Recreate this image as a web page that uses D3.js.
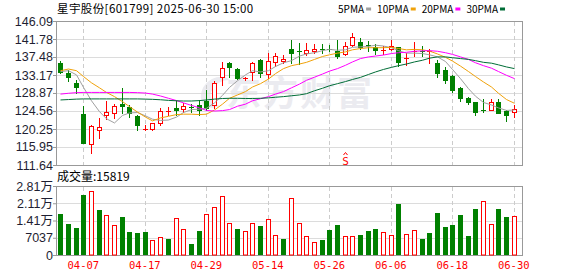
<!DOCTYPE html>
<html><head><meta charset="utf-8">
<script src="https://cdn.jsdelivr.net/npm/d3@7/dist/d3.min.js"></script>
<style>body{margin:0;background:#fff}svg{display:block}</style>
</head><body><svg id="c" width="578" height="276"></svg>
<script>
const dates = ["04-01","04-02","04-03","04-07","04-08","04-09","04-10","04-11","04-14","04-15","04-16","04-17","04-18","04-21","04-22","04-23","04-24","04-25","04-28","04-29","04-30","05-06","05-07","05-08","05-09","05-12","05-13","05-14","05-15","05-16","05-19","05-20","05-21","05-22","05-23","05-26","05-27","05-28","05-29","05-30","06-03","06-04","06-05","06-06","06-09","06-10","06-11","06-12","06-13","06-16","06-17","06-18","06-19","06-20","06-23","06-24","06-25","06-26","06-27","06-30"];
const open  = [136.1,133.7,131.2,123.8,116.6,119.9,123.5,124.0,126.3,125.5,123.4,120.2,120.3,121.7,124.5,125.3,125.1,125.4,126.0,126.9,126.0,132.6,136.0,134.6,132.3,133.8,136.8,133.3,136.2,136.6,139.4,138.8,138.5,138.8,139.35,139.4,138.8,138.2,140.4,141.1,140.4,139.8,139.1,139.4,139.8,136.9,138.9,138.8,138.7,136.1,134.4,133.0,130.1,127.6,126.6,124.7,124.8,126.8,124.6,124.4];
const close = [134.0,132.8,130.4,117.0,121.0,120.8,124.2,125.7,125.8,124.0,121.2,120.3,121.6,124.6,124.6,124.8,125.8,125.2,124.8,125.2,131.3,134.8,135.0,132.4,132.4,136.0,133.6,136.5,137.7,136.9,138.5,138.7,139.2,139.4,139.25,139.3,137.7,140.1,142.2,139.9,140.2,139.1,139.2,140.1,136.3,137.2,139.0,138.7,138.8,133.6,132.0,129.6,127.7,126.8,124.4,124.6,126.7,124.0,123.6,125.0];
const high  = [136.6,134.4,132.0,125.8,121.2,123.0,127.0,126.2,130.0,126.0,123.6,121.3,121.8,125.2,125.4,127.2,126.4,126.2,127.2,129.6,131.8,136.2,136.4,134.8,132.8,136.4,136.9,138.4,138.4,138.0,141.5,140.8,140.8,140.5,140.5,140.3,141.5,141.1,143.2,142.0,141.3,140.5,140.0,141.5,139.9,138.4,141.0,140.0,139.4,136.8,135.2,133.2,130.4,128.0,126.8,127.4,127.4,127.4,124.8,126.0];
const low   = [133.7,131.8,128.9,117.0,114.6,118.2,122.6,122.8,124.0,123.1,120.0,119.9,120.0,121.2,123.6,123.6,124.4,124.4,123.6,124.8,125.2,130.8,132.8,132.2,132.0,132.0,132.8,132.5,135.3,136.0,136.0,135.8,138.0,138.5,138.5,138.8,137.2,137.9,140.1,139.5,139.0,138.3,138.3,139.2,135.3,135.6,137.7,137.8,136.0,132.8,131.2,129.0,127.0,126.3,123.6,124.4,124.8,124.0,122.2,123.2];
const volume = [16850,12770,11140,24600,26100,18480,16320,12240,15500,9520,9100,9520,6120,7210,6390,14960,10470,4490,9790,16720,19440,23930,12920,10600,9660,12920,11830,14550,8030,6530,23120,12920,7610,5300,6120,10200,12240,7610,7610,8160,9790,10600,9250,8030,20800,8440,10070,6530,8970,17130,11420,12240,16320,7750,18760,21900,12520,18760,15500,15819];
const volUp = [0,0,0,0,1,0,1,1,0,0, 0,0,1,1,0,1,1,0,0,1, 1,1,1,0,1,1,0,1,1,0, 1,1,1,1,0,0,0,1,1,0, 0,0,1,1,0,1,1,0,0,0, 0,0,0,0,0,1,1,0,0,1];
const ma5  = [134.0,134.2,133.2,130.2,127.0,124.4,122.7,121.7,123.5,124.1,124.2,123.4,122.6,122.3,122.4,123.1,124.2,124.9,125.0,125.2,126.5,128.3,130.2,131.8,133.2,134.2,133.9,134.2,135.2,136.1,136.6,137.7,138.2,138.5,139.0,139.3,139.1,139.2,139.8,139.9,140.0,140.3,140.1,139.7,139.0,138.4,138.4,138.3,138.0,137.5,136.4,134.5,132.3,129.9,128.1,126.6,126.0,125.3,124.7,124.8];
const ma10 = [134.2,134.6,134.2,132.8,131.3,130.1,129.0,128.0,126.8,125.6,124.3,123.1,122.2,122.9,123.3,123.7,123.8,123.8,123.7,123.8,124.8,126.2,127.6,128.4,129.2,130.3,131.1,132.2,133.5,134.7,135.4,135.8,136.2,136.9,137.6,138.0,138.4,138.7,139.2,139.5,139.7,139.7,139.7,139.8,139.5,139.2,139.3,139.2,138.9,138.2,137.4,136.5,135.3,134.0,132.8,131.5,130.3,128.8,127.3,126.4];
const ma20 = [128.6,128.8,128.95,129.0,129.0,129.0,129.0,129.0,129.0,129.0,128.95,128.85,128.6,128.15,127.6,127.05,126.5,125.9,125.3,124.7,124.55,124.65,124.9,125.7,126.2,127.0,127.5,128.0,128.6,129.2,130.1,131.0,131.9,132.65,133.4,134.1,134.7,135.5,136.3,137.1,137.5,137.7,137.95,138.3,138.5,138.6,138.85,138.95,139.0,138.85,138.5,138.1,137.5,136.9,136.1,135.4,134.8,134.0,133.1,132.3];
const ma30 = [127.2,127.3,127.4,127.45,127.45,127.45,127.45,127.45,127.45,127.45,127.45,127.4,127.35,127.25,127.1,127.0,126.95,126.95,127.05,127.2,127.4,127.55,127.6,127.6,127.55,127.55,127.6,127.7,127.85,128.0,128.2,128.4,128.7,129.4,130.0,130.6,131.1,131.6,132.1,132.6,133.3,133.9,134.5,135.0,135.4,135.8,136.3,136.7,137.2,137.5,137.5,137.3,137.1,136.9,136.6,136.2,136.0,135.6,135.1,134.7];
const maNames = ["5PMA","10PMA","20PMA","30PMA"];
const maColors = ["#a0a0a0","#f0a20a","#ff00ff","#006d36"];
const priceTicks = [111.64,115.95,120.25,124.56,128.87,133.17,137.48,141.78,146.09];
const volTicks = [0,7037,14074,21111,28148];
const volTickLabels = ["0","7037","1.41万","2.11万","2.81万"];
const xTickDates = ["04-07","04-17","04-29","05-14","05-26","06-06","06-18","06-30"];
const markerDates = ["05-28"];
const title = "星宇股份[601799] 2025-06-30 15:00";
const volTitle = "成交量:15819";

const RED = "#ff0000", GREEN = "#008000";
const L = 56, R = 522, T = 21, B = 165, VT = 186, VB = 255;
const svg = d3.select("#c");
const x = d3.scaleBand().domain(dates).range([56.4, 517.6]);
const cx = d => Math.round(x(d) + x.bandwidth() / 2) + 0.5;
const y = d3.scaleLinear().domain([priceTicks[0], priceTicks[priceTicks.length - 1]]).range([B, T]);
const yv = d3.scaleLinear().domain([0, volTicks[volTicks.length - 1]]).range([VB, VT]);
const px = v => Math.round(v);

svg.append("rect").attr("width", 578).attr("height", 276).attr("fill", "#fff");

// watermark
const wm = svg.append("g").attr("fill", "#ebebf0");
wm.append("path").attr("d", "M203,104 C198,96 202,84 212,79 C220,75 228,77 229,80 C222,80 214,84 211,92 C209,98 213,104 220,106 C213,109 206,108 203,104 Z");
wm.append("text").attr("x", 226).attr("y", 106).attr("font-family", "Noto Sans CJK SC").attr("font-weight", 700)
  .attr("font-size", 35).attr("letter-spacing", 2).text("东方财富");

// horizontal grid
const grid = svg.append("g").attr("stroke", "#dcdcdc").attr("stroke-width", 1);
priceTicks.slice(1, -1).forEach(t => grid.append("line").attr("x1", L).attr("x2", R).attr("y1", px(y(t)) + 0.5).attr("y2", px(y(t)) + 0.5));
volTicks.slice(1, -1).forEach(t => grid.append("line").attr("x1", L).attr("x2", R).attr("y1", px(yv(t)) + 0.5).attr("y2", px(yv(t)) + 0.5));
// vertical dashed grid
const vg = svg.append("g").attr("stroke", "#cccccc").attr("stroke-dasharray", "4,3");
xTickDates.forEach(d => {
  vg.append("line").attr("x1", cx(d)).attr("x2", cx(d)).attr("y1", T + 1).attr("y2", B);
  vg.append("line").attr("x1", cx(d)).attr("x2", cx(d)).attr("y1", VT + 1).attr("y2", VB);
});
// borders
svg.append("rect").attr("x", L + 0.5).attr("y", T + 0.5).attr("width", R - L).attr("height", B - T).attr("fill", "none").attr("stroke", "#999");
svg.append("rect").attr("x", L + 0.5).attr("y", VT + 0.5).attr("width", R - L).attr("height", VB - VT).attr("fill", "none").attr("stroke", "#999");

// volume bars
const vb = svg.append("g");
dates.forEach((d, i) => {
  const c = cx(d), top = px(yv(volume[i]));
  if (volUp[i]) {
    vb.append("rect").attr("x", c - 2).attr("y", top + 0.5).attr("width", 4).attr("height", VB - top - 0.5)
      .attr("fill", "#fff").attr("stroke", RED);
  } else {
    vb.append("rect").attr("x", c - 2.5).attr("y", top).attr("width", 5).attr("height", VB - top).attr("fill", GREEN);
  }
});

// candles
const cg = svg.append("g");
dates.forEach((d, i) => {
  const c = cx(d);
  const up = close[i] >= open[i];
  const col = up ? RED : GREEN;
  const t = px(y(Math.max(open[i], close[i]))), b = px(y(Math.min(open[i], close[i])));
  cg.append("line").attr("x1", c).attr("x2", c).attr("y1", px(y(high[i]))).attr("y2", px(y(low[i])) + 1).attr("stroke", col);
  if (b - t < 2) {
    cg.append("rect").attr("x", c - 2.5).attr("y", t).attr("width", 5).attr("height", Math.max(1, b - t)).attr("fill", col);
  } else if (up) {
    cg.append("rect").attr("x", c - 2).attr("y", t + 0.5).attr("width", 4).attr("height", b - t).attr("fill", "#fff").attr("stroke", col);
  } else {
    cg.append("rect").attr("x", c - 2.5).attr("y", t).attr("width", 5).attr("height", b - t + 1).attr("fill", col);
  }
});

// moving averages
const mas = [ma5, ma10, ma20, ma30];
const line = d3.line().x((v, i) => cx(dates[i])).y(v => y(v));
mas.forEach((m, k) => svg.append("path").attr("d", line(m)).attr("fill", "none").attr("stroke", maColors[k]).attr("stroke-width", 1));

// marker
markerDates.forEach(d => {
  const c = cx(d);
  svg.append("path").attr("d", `M${c - 2},${155} L${c},${152.5} L${c + 2},${155}`).attr("fill", "none").attr("stroke", RED);
  svg.append("text").attr("x", c).attr("y", 164.5).attr("text-anchor", "middle").attr("fill", RED)
    .attr("font-family", "DejaVu Sans Mono").attr("font-size", 11).text("S");
});

// axes
const styleAxis = (g, size, fill, fam) => {
  g.select(".domain").remove();
  g.attr("font-family", null).attr("font-size", null);
  g.selectAll(".tick line").attr("stroke", "#999");
  g.selectAll("text").attr("font-family", fam).attr("font-size", size).attr("fill", fill);
};
const ya = svg.append("g").attr("transform", `translate(${L},0)`)
  .call(d3.axisLeft(y).tickValues(priceTicks).tickFormat(d => d.toFixed(2)).tickSize(3).tickPadding(0));
styleAxis(ya, 12.5, "#1e1e32", "Liberation Sans, Noto Sans CJK SC");
const va = svg.append("g").attr("transform", `translate(${L},0)`)
  .call(d3.axisLeft(yv).tickValues(volTicks).tickFormat((d, i) => volTickLabels[i]).tickSize(3).tickPadding(0));
styleAxis(va, 12.5, "#1e1e32", "Liberation Sans, Noto Sans CJK SC");
const xa = svg.append("g").attr("transform", `translate(0,${VB})`)
  .call(d3.axisBottom(x).tickValues(xTickDates).tickSize(0).tickPadding(7));
styleAxis(xa, 10.5, RED, "DejaVu Sans Mono");

// title and legend
svg.append("text").attr("x", 57).attr("y", 13).attr("font-family", "Noto Sans CJK SC").attr("font-size", 11.5)
  .attr("letter-spacing", 0.4).attr("fill", "#000").text(title);
svg.append("text").attr("x", 57).attr("y", 181).attr("font-family", "Noto Sans CJK SC").attr("font-size", 12).attr("fill", "#000").text(volTitle);
let lx = 338;
maNames.forEach((n, k) => {
  const t = svg.append("text").attr("x", lx).attr("y", 13).attr("font-family", "Noto Sans CJK SC").attr("font-size", 10).attr("fill", "#000").text(n);
  const w = t.node().getComputedTextLength();
  svg.append("rect").attr("x", lx + w + 2).attr("y", 7.5).attr("width", 5).attr("height", 3).attr("fill", maColors[k]);
  lx = lx + w + 2 + 5 + 6;
});
</script></body></html>
